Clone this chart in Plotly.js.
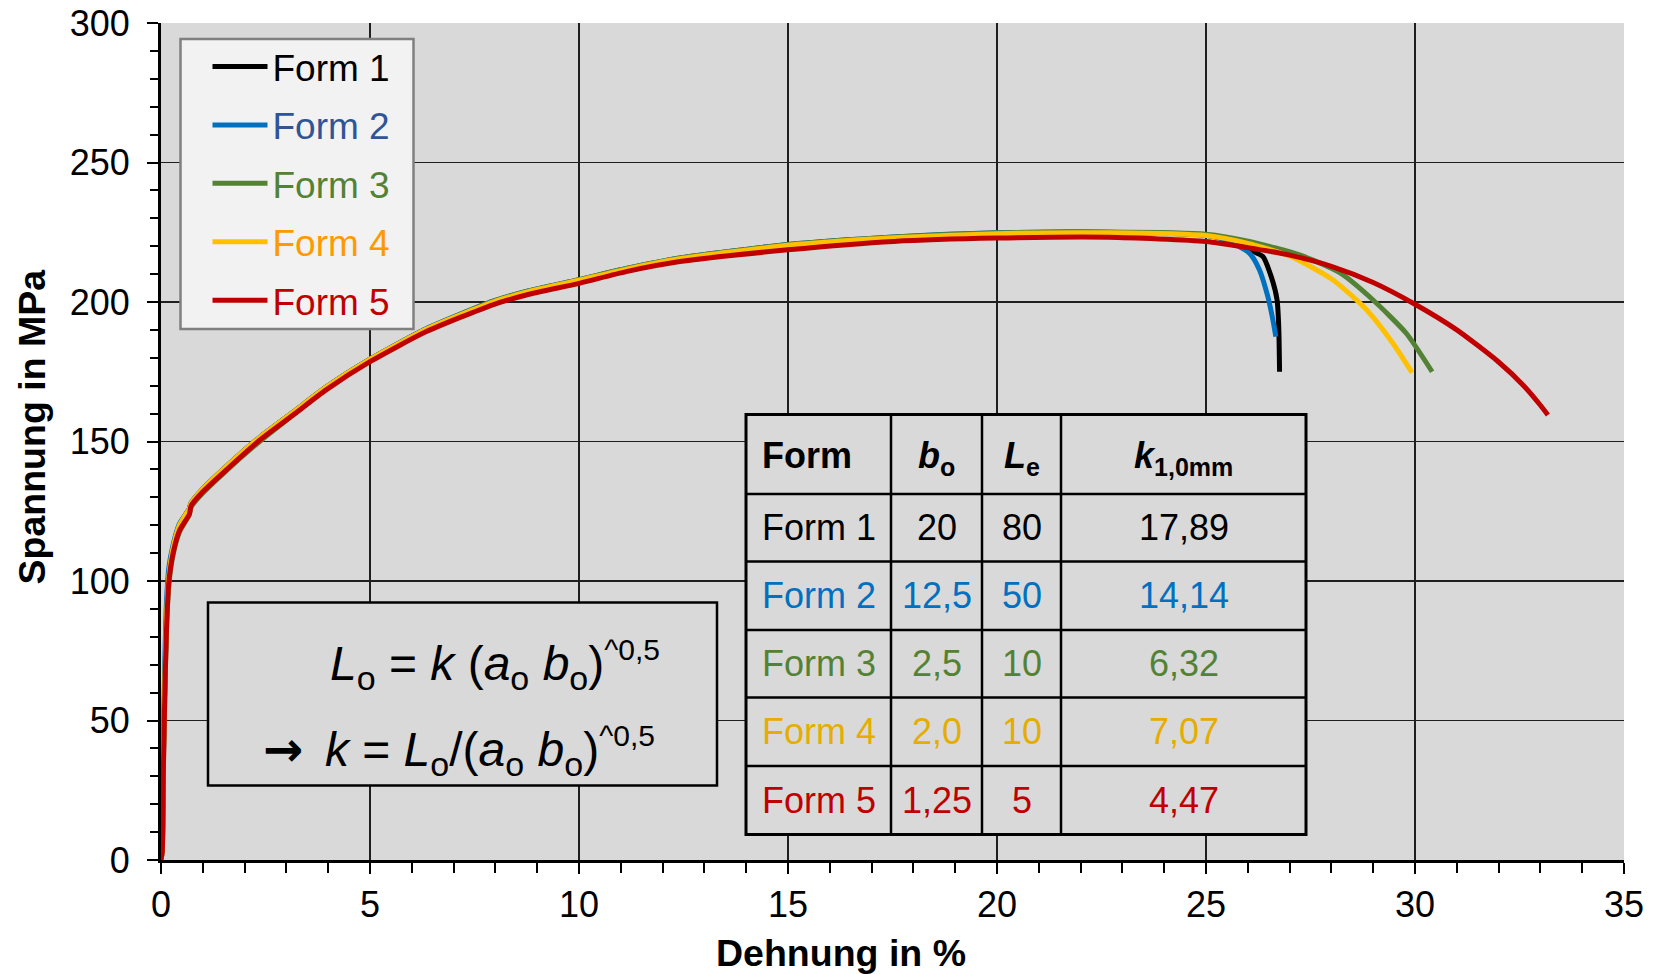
<!DOCTYPE html>
<html>
<head>
<meta charset="utf-8">
<script src="https://cdn.plot.ly/plotly-3.0.1.min.js"></script>
<style>
html,body{margin:0;padding:0;background:#ffffff;}
#chart{width:1654px;height:974px;}
</style>
</head>
<body>
<div id="chart"></div>
<script>
// ---------------- data ----------------
const seriesNames = ['Form 1', 'Form 2', 'Form 3', 'Form 4', 'Form 5'];

const form1X = [0, 0.03, 0.06, 0.09, 0.13, 0.19, 0.29, 0.44, 0.68, 0.72, 1.0, 1.56, 2.36, 3.16, 3.95, 5.0, 6.35, 7.94, 8.74, 10.0, 11.13, 12.41, 15.0, 17.53, 20.0, 22.66, 25.0, 25.5, 26.04, 26.36, 26.56, 26.7, 26.74, 26.76];
const form1Y = [0, 4, 40, 62, 86, 102, 112, 120, 126, 128, 133, 141, 151.5, 160.5, 169.5, 179.5, 190.3, 200, 203.5, 207.8, 211.8, 215.5, 220.4, 223.1, 224.6, 224.9, 223.9, 222.3, 218.7, 216.3, 209.1, 200.8, 191.2, 175];

const form2X = [0, 0.03, 0.06, 0.09, 0.13, 0.19, 0.29, 0.44, 0.68, 0.72, 1.0, 1.56, 2.36, 3.16, 3.95, 5.0, 6.35, 7.94, 8.74, 10.0, 11.13, 12.41, 15.0, 17.53, 20.0, 22.66, 25.0, 25.5, 26.04, 26.28, 26.48, 26.6, 26.67];
const form2Y = [0, 5, 45, 70, 92, 105, 113, 120.5, 126, 128, 133, 141, 151.5, 160.5, 169.5, 179.5, 190.5, 200.3, 203.8, 208, 212, 215.8, 220.6, 223.3, 224.8, 225.0, 224.0, 222.0, 217.5, 211.5, 201.9, 193.6, 187.6];

const form3X = [0, 0.03, 0.06, 0.09, 0.13, 0.19, 0.29, 0.44, 0.68, 0.72, 1.0, 1.56, 2.36, 3.16, 3.95, 5.0, 6.35, 7.94, 8.74, 10.0, 11.13, 12.41, 15.0, 17.53, 20.0, 22.66, 25.0, 26.04, 27.24, 28.2, 28.99, 29.79, 30.41];
const form3Y = [0, 3, 36, 58, 82, 99, 109.5, 117.5, 124, 126.5, 131.5, 139.5, 150, 159.5, 168.8, 179, 190.3, 200.2, 203.8, 208, 212, 215.8, 220.6, 223.3, 224.8, 225.1, 224.3, 221.7, 216.9, 210.5, 200.8, 188.8, 175];

const form4X = [0, 0.03, 0.06, 0.09, 0.13, 0.19, 0.29, 0.44, 0.68, 0.72, 1.0, 1.56, 2.36, 3.16, 3.95, 5.0, 6.35, 7.94, 8.74, 10.0, 11.13, 12.41, 15.0, 17.53, 20.0, 22.66, 25.0, 26.0, 27.0, 28.04, 28.84, 29.47, 29.93];
const form4Y = [0, 4, 40, 62, 86, 102, 112, 120, 126, 128, 133, 141, 151.5, 160.5, 169.5, 179.5, 190.3, 200, 203.5, 207.8, 211.8, 215.5, 220.3, 223, 224.5, 224.8, 223.8, 221, 216.5, 207.9, 197.2, 185.2, 174.7];

const form5X = [0, 0.03, 0.06, 0.09, 0.13, 0.19, 0.29, 0.44, 0.68, 0.72, 1.0, 1.56, 2.36, 3.16, 3.95, 5.0, 6.35, 7.94, 8.74, 10.0, 11.13, 12.41, 15.0, 17.53, 20.0, 22.66, 25.0, 26, 27, 28, 29, 30, 31, 32, 32.6, 33.0, 33.18];
const form5Y = [0, 3, 35, 58, 82, 100, 110, 118, 124, 127, 132, 139.8, 150.5, 159.5, 168.5, 178.6, 189.4, 199, 202.5, 206.7, 210.9, 214.5, 218.7, 221.7, 222.9, 223.2, 221.7, 219.5, 216.8, 212.8, 207, 199.2, 190, 178.5, 170, 163, 159.5];

// table content
const tableHeader = [['Form', ''], ['b', 'o'], ['L', 'e'], ['k', '1,0mm']];
const tableForms = ['Form 1', 'Form 2', 'Form 3', 'Form 4', 'Form 5'];
const tableB = ['20', '12,5', '2,5', '2,0', '1,25'];
const tableLe = ['80', '50', '10', '10', '5'];
const tableK = ['17,89', '14,14', '6,32', '7,07', '4,47'];

const xTitle = 'Dehnung in %';
const yTitle = 'Spannung in MPa';

// ---------------- styles ----------------
const FONT = 'Liberation Sans, Arial, sans-serif';
const lineColors = ['#000000', '#0070c0', '#548235', '#ffc000', '#c00000'];
const legendTextColors = ['#000000', '#2f5597', '#548235', '#ff9900', '#c00000'];
const tableTextColors = ['#000000', '#0070c0', '#548235', '#e5ad00', '#c00000'];

const W = 1654, H = 974;
const M = {l: 161, r: 30, t: 23, b: 114};
const PW = W - M.l - M.r, PH = H - M.t - M.b;
const px = v => (v - M.l) / PW;
const py = v => (H - M.b - v) / PH;

// formula text helpers (sized spans)
const FS = 48;
const it = s => '<span style="font-style:italic;font-size:' + FS + 'px">' + s + '</span>';
const sub = s => '<sub><span style="font-size:' + Math.round(FS * 0.7) + 'px">' + s + '</span></sub>';
const sup = s => '<sup><span style="font-size:30px">' + s + '</span></sup>';
const arrow = '<span style="font-family:DejaVu Sans;font-weight:bold;font-size:' + FS + 'px">\u2192</span>';
const gap = '<span style="font-size:39px">\u00a0 </span>';
const formulaLines = [
  it('L') + sub('o') + ' = ' + it('k') + ' (' + it('a') + sub('o') + ' ' + it('b') + sub('o') + ')' + sup('^0,5'),
  arrow + gap + it('k') + ' = ' + it('L') + sub('o') + '/(' + it('a') + sub('o') + ' ' + it('b') + sub('o') + ')' + sup('^0,5')
];

const xs = [form1X, form2X, form3X, form4X, form5X];
const ys = [form1Y, form2Y, form3Y, form4Y, form5Y];

const traces = seriesNames.map((n, i) => ({
  type: 'scatter',
  mode: 'lines',
  x: xs[i],
  y: ys[i],
  name: '<span style="color:' + legendTextColors[i] + ';font-size:37px">' + n + '</span>',
  legendgroup: 'g' + i,
  line: {color: lineColors[i], width: 5, shape: 'spline', smoothing: 0.6},
  hoverinfo: 'x+y'
}));

// ---------------- shapes ----------------
const shapes = [];
// legend frame
shapes.push({type: 'rect', xref: 'paper', yref: 'paper', layer: 'above',
  x0: px(180.5), x1: px(413.5), y0: py(329), y1: py(39),
  fillcolor: '#f2f2f2', line: {color: '#808080', width: 2.5}});
// formula box
shapes.push({type: 'rect', xref: 'paper', yref: 'paper', layer: 'above',
  x0: px(208), x1: px(717), y0: py(602.5), y1: py(785.5),
  fillcolor: '#d9d9d9', line: {color: '#000000', width: 2.5}});
// table
const tL = 746, tR = 1306;
const tCols = [891, 982, 1061];
const tRows = [414.5, 494, 561.5, 630, 697.5, 766, 834.5];
shapes.push({type: 'rect', xref: 'paper', yref: 'paper', layer: 'above',
  x0: px(tL), x1: px(tR), y0: py(tRows[tRows.length - 1]), y1: py(tRows[0]),
  fillcolor: '#d9d9d9', line: {color: '#000000', width: 3}});
tCols.forEach(c => shapes.push({type: 'line', xref: 'paper', yref: 'paper', layer: 'above',
  x0: px(c), x1: px(c), y0: py(tRows[0]), y1: py(tRows[tRows.length - 1]),
  line: {color: '#000000', width: 2.5}}));
tRows.slice(1, -1).forEach(r => shapes.push({type: 'line', xref: 'paper', yref: 'paper', layer: 'above',
  x0: px(tL), x1: px(tR), y0: py(r), y1: py(r),
  line: {color: '#000000', width: 2.5}}));

// ---------------- annotations ----------------
const ann = [];
const colCenters = [null, (tCols[0] + tCols[1]) / 2, (tCols[1] + tCols[2]) / 2, (tCols[2] + tR) / 2];
tableHeader.forEach((h, j) => {
  const txt = j === 0 ? h[0] :
    '<span style="font-style:italic;font-size:36px">' + h[0] + '</span><sub><span style="font-size:25px">' + h[1] + '</span></sub>';
  ann.push({xref: 'paper', yref: 'paper', showarrow: false,
    x: j === 0 ? px(760) : px(colCenters[j]), xanchor: j === 0 ? 'left' : 'center',
    y: py(j === 0 ? 455.5 : 458), yanchor: 'middle',
    text: txt, font: {family: FONT, size: 36, color: '#000000', weight: 'bold'}});
});
tableForms.forEach((f, i) => {
  const yc = (tRows[i + 1] + tRows[i + 2]) / 2;
  const cells = [f, tableB[i], tableLe[i], tableK[i]];
  cells.forEach((c, j) => {
    ann.push({xref: 'paper', yref: 'paper', showarrow: false,
      x: j === 0 ? px(760) : px(colCenters[j]), xanchor: j === 0 ? 'left' : 'center',
      y: py(yc), yanchor: 'middle',
      text: c, font: {family: FONT, size: 36, color: tableTextColors[i]}});
  });
});
ann.push({xref: 'paper', yref: 'paper', showarrow: false, x: px(328), xanchor: 'left',
  y: py(665), yanchor: 'middle', text: formulaLines[0],
  font: {family: FONT, size: FS, color: '#000000'}});
ann.push({xref: 'paper', yref: 'paper', showarrow: false, x: px(261), xanchor: 'left',
  y: py(750.5), yanchor: 'middle', text: formulaLines[1],
  font: {family: FONT, size: FS, color: '#000000'}});
ann.push({xref: 'paper', yref: 'paper', showarrow: false, x: px(841), xanchor: 'center',
  y: py(953), yanchor: 'middle', text: xTitle,
  font: {family: FONT, size: 37.5, color: '#000000', weight: 'bold'}});
ann.push({xref: 'paper', yref: 'paper', showarrow: false, x: px(31.5), xanchor: 'center',
  y: py(427), yanchor: 'middle', text: yTitle, textangle: -90,
  font: {family: FONT, size: 37.5, color: '#000000', weight: 'bold'}});

const axisCommon = {
  showgrid: true, gridcolor: '#1f1f1f', gridwidth: 1.4,
  showline: true, linecolor: '#000000', linewidth: 3,
  ticks: 'outside', ticklen: 11, tickwidth: 2, tickcolor: '#000000',
  zeroline: false,
  tickfont: {family: FONT, size: 36, color: '#000000'}
};

const layout = {
  width: W, height: H,
  margin: M,
  paper_bgcolor: '#ffffff',
  plot_bgcolor: '#d9d9d9',
  font: {family: FONT, size: 36, color: '#000000'},
  xaxis: Object.assign({}, axisCommon, {range: [0, 35], tick0: 0, dtick: 5,
    minor: {dtick: 1, ticks: 'outside', ticklen: 10, tickwidth: 2, tickcolor: '#000000', showgrid: false}}),
  yaxis: Object.assign({}, axisCommon, {range: [0, 300], tick0: 0, dtick: 50, ticklabelstandoff: 10,
    minor: {dtick: 10, ticks: 'outside', ticklen: 8, tickwidth: 2, tickcolor: '#000000', showgrid: false}}),
  showlegend: true,
  legend: {
    x: px(180.5), y: py(36), xanchor: 'left', yanchor: 'top',
    bgcolor: 'rgba(0,0,0,0)', borderwidth: 0,
    font: {family: FONT, size: 37, color: '#000000'},
    itemwidth: 55, indentation: 27, tracegroupgap: 7.3, traceorder: 'grouped'
  },
  shapes: shapes,
  annotations: ann
};

Plotly.newPlot('chart', traces, layout, {displayModeBar: false, staticPlot: true});
</script>
</body>
</html>
